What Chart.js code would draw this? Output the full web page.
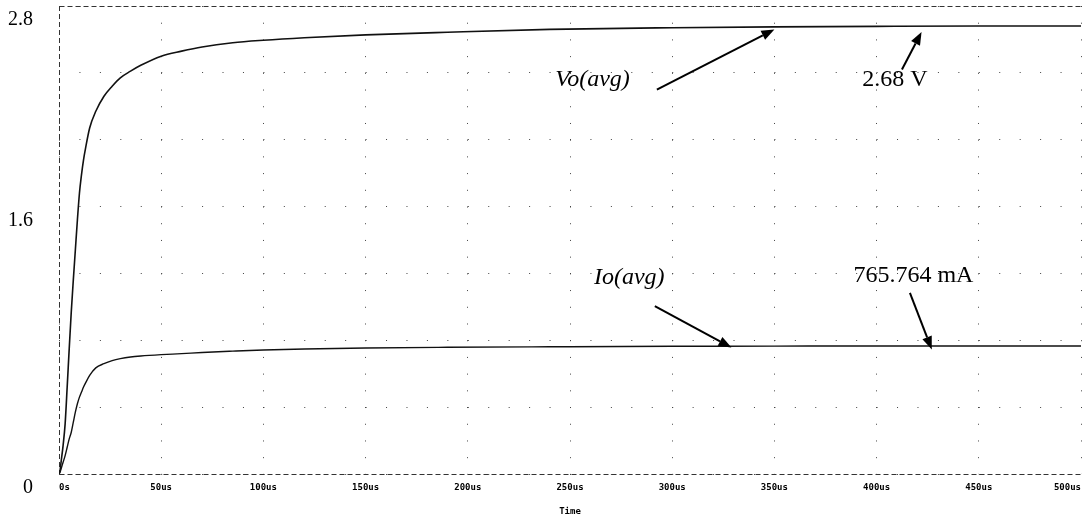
<!DOCTYPE html>
<html>
<head>
<meta charset="utf-8">
<script src="https://cdn.jsdelivr.net/npm/chart.js@4.4.1/dist/chart.umd.min.js"></script>
<style>
  body { margin: 0; background: #fff; }
  #wrap { width: 1086px; height: 522px; position: relative; }
</style>
</head>
<body>
<div id="wrap"><canvas id="sim-chart"></canvas></div>
<script>
// simulation time, us
const time = [0, 0.5, 1, 2, 3, 4, 5, 6, 7, 8, 9, 10, 11, 12, 13, 15, 18, 22, 26, 30,
              35, 40, 50, 60, 70, 85, 100, 120, 150, 190, 240, 300, 350, 400, 450, 500];
// average output voltage, V
const vo = [0, 0.02, 0.07, 0.17, 0.30, 0.52, 0.75, 0.97, 1.16, 1.34, 1.52, 1.68, 1.79, 1.88, 1.95, 2.07, 2.17, 2.26, 2.32, 2.37,
            2.41, 2.445, 2.50, 2.53, 2.555, 2.58, 2.595, 2.61, 2.627, 2.643, 2.66, 2.67, 2.675, 2.678, 2.68, 2.68];
// average output current, A
const io = [0, 0.01, 0.03, 0.07, 0.11, 0.16, 0.21, 0.25, 0.31, 0.37, 0.42, 0.46, 0.49, 0.52, 0.545, 0.59, 0.635, 0.66, 0.678, 0.69,
            0.70, 0.706, 0.714, 0.72, 0.727, 0.735, 0.742, 0.748, 0.754, 0.758, 0.761, 0.764, 0.765, 0.766, 0.766, 0.766];

const yLabelValues = [0, 1.6, 2.8];

// callouts, in data units (us, value)
const noteText   = ['Vo(avg)', '2.68 V', 'Io(avg)', '765.764 mA'];
const noteItalic = [true, false, true, false];
const noteAt     = [[261, 2.36], [409, 2.36], [279, 1.175], [418, 1.185]];
const arrowFrom  = [[292.5, 2.30], [412.4, 2.42], [291.5, 1.005], [416.3, 1.083]];
const arrowTo    = [[350, 2.66], [422, 2.645], [329, 0.757], [427, 0.745]];

const toPts = ys => time.map((t, i) => ({x: t, y: ys[i]}));

// dashed frame on top, bottom and left
const framePlugin = {
    id: 'frame',
    beforeDatasetsDraw(chart) {
        const {ctx, chartArea: a} = chart;
        ctx.save();
        ctx.strokeStyle = '#333';
        ctx.lineWidth = 1;
        ctx.setLineDash([5, 3]);
        ctx.beginPath();
        ctx.moveTo(a.left + 0.5, a.top + 0.5); ctx.lineTo(a.right, a.top + 0.5);
        ctx.moveTo(a.left + 0.5, a.bottom + 0.5); ctx.lineTo(a.right, a.bottom + 0.5);
        ctx.moveTo(a.left + 0.5, a.top); ctx.lineTo(a.left + 0.5, a.bottom);
        ctx.stroke();
        ctx.restore();
    }
};

const notesPlugin = {
    id: 'notes',
    afterDatasetsDraw(chart) {
        const {ctx, scales: {x, y}} = chart;
        ctx.save();
        ctx.fillStyle = '#000';
        ctx.strokeStyle = '#000';
        ctx.textAlign = 'center';
        ctx.textBaseline = 'middle';
        noteText.forEach((txt, i) => {
            ctx.font = (noteItalic[i] ? 'italic ' : '') + '24px "Liberation Serif"';
            ctx.fillText(txt, x.getPixelForValue(noteAt[i][0]), y.getPixelForValue(noteAt[i][1]));

            const x1 = x.getPixelForValue(arrowFrom[i][0]), y1 = y.getPixelForValue(arrowFrom[i][1]);
            const x2 = x.getPixelForValue(arrowTo[i][0]), y2 = y.getPixelForValue(arrowTo[i][1]);
            const ang = Math.atan2(y2 - y1, x2 - x1);
            const len = 13, half = 5;
            const bx = x2 - len * Math.cos(ang), by = y2 - len * Math.sin(ang);
            ctx.lineWidth = 2;
            ctx.beginPath();
            ctx.moveTo(x1, y1);
            ctx.lineTo(bx, by);
            ctx.stroke();
            ctx.beginPath();
            ctx.moveTo(x2, y2);
            ctx.lineTo(bx + half * Math.sin(ang), by - half * Math.cos(ang));
            ctx.lineTo(bx - half * Math.sin(ang), by + half * Math.cos(ang));
            ctx.closePath();
            ctx.fill();
        });
        ctx.restore();
    }
};

document.addEventListener('DOMContentLoaded', function(){

    const ctx = document.getElementById('sim-chart').getContext('2d');
    new Chart(ctx, {
        type: 'line',
        data: {
            datasets: [{
                label: 'Vo(avg)',
                data: toPts(vo),
                borderColor: '#111',
                borderWidth: 1.6,
                pointRadius: 0,
                cubicInterpolationMode: 'monotone',
            }, {
                label: 'Io(avg)',
                data: toPts(io),
                borderColor: '#111',
                borderWidth: 1.4,
                pointRadius: 0,
                cubicInterpolationMode: 'monotone',
            }]
        },
        options: {
            responsive: true,
            maintainAspectRatio: false,
            animation: false,
            layout: { padding: { top: 6, right: 5, left: 0, bottom: 0 } },
            plugins: { legend: { display: false }, tooltip: { enabled: false } },
            scales: {
                x: {
                    type: 'linear',
                    min: 0,
                    max: 500,
                    afterFit(s) { s.height = 48; s.paddingLeft = 0; s.paddingRight = 0; },
                    ticks: {
                        stepSize: 50,
                        align: 'inner',
                        maxRotation: 0,
                        padding: 8,
                        color: '#000',
                        font: { family: '"DejaVu Sans Mono"', size: 9, weight: 'bold' },
                        callback: v => v === 0 ? '0s' : v + 'us',
                    },
                    grid: { color: '#444', lineWidth: 1, drawTicks: false },
                    border: { display: false, dash: [1, 15.71] },
                    title: {
                        display: true,
                        text: 'Time',
                        color: '#000',
                        padding: { top: 0, bottom: 5 },
                        font: { family: '"DejaVu Sans Mono"', size: 9, weight: 'bold' },
                    },
                },
                y: {
                    min: 0,
                    max: 2.8,
                    afterFit(s) { s.width = 59; s.paddingTop = 0; s.paddingBottom = 0; },
                    ticks: {
                        stepSize: 0.4,
                        padding: 26,
                        labelOffset: 14,
                        color: '#000',
                        font: { family: '"Liberation Serif"', size: 20 },
                        callback: v => yLabelValues.find(l => Math.abs(l - v) < 1e-6) !== undefined ? String(Math.round(v * 10) / 10) : '',
                    },
                    grid: { color: '#444', lineWidth: 1, drawTicks: false },
                    border: { display: false, dash: [1, 19.44] },
                },
            },
        },
        plugins: [framePlugin, notesPlugin],
    });

});
</script>
</body>
</html>
